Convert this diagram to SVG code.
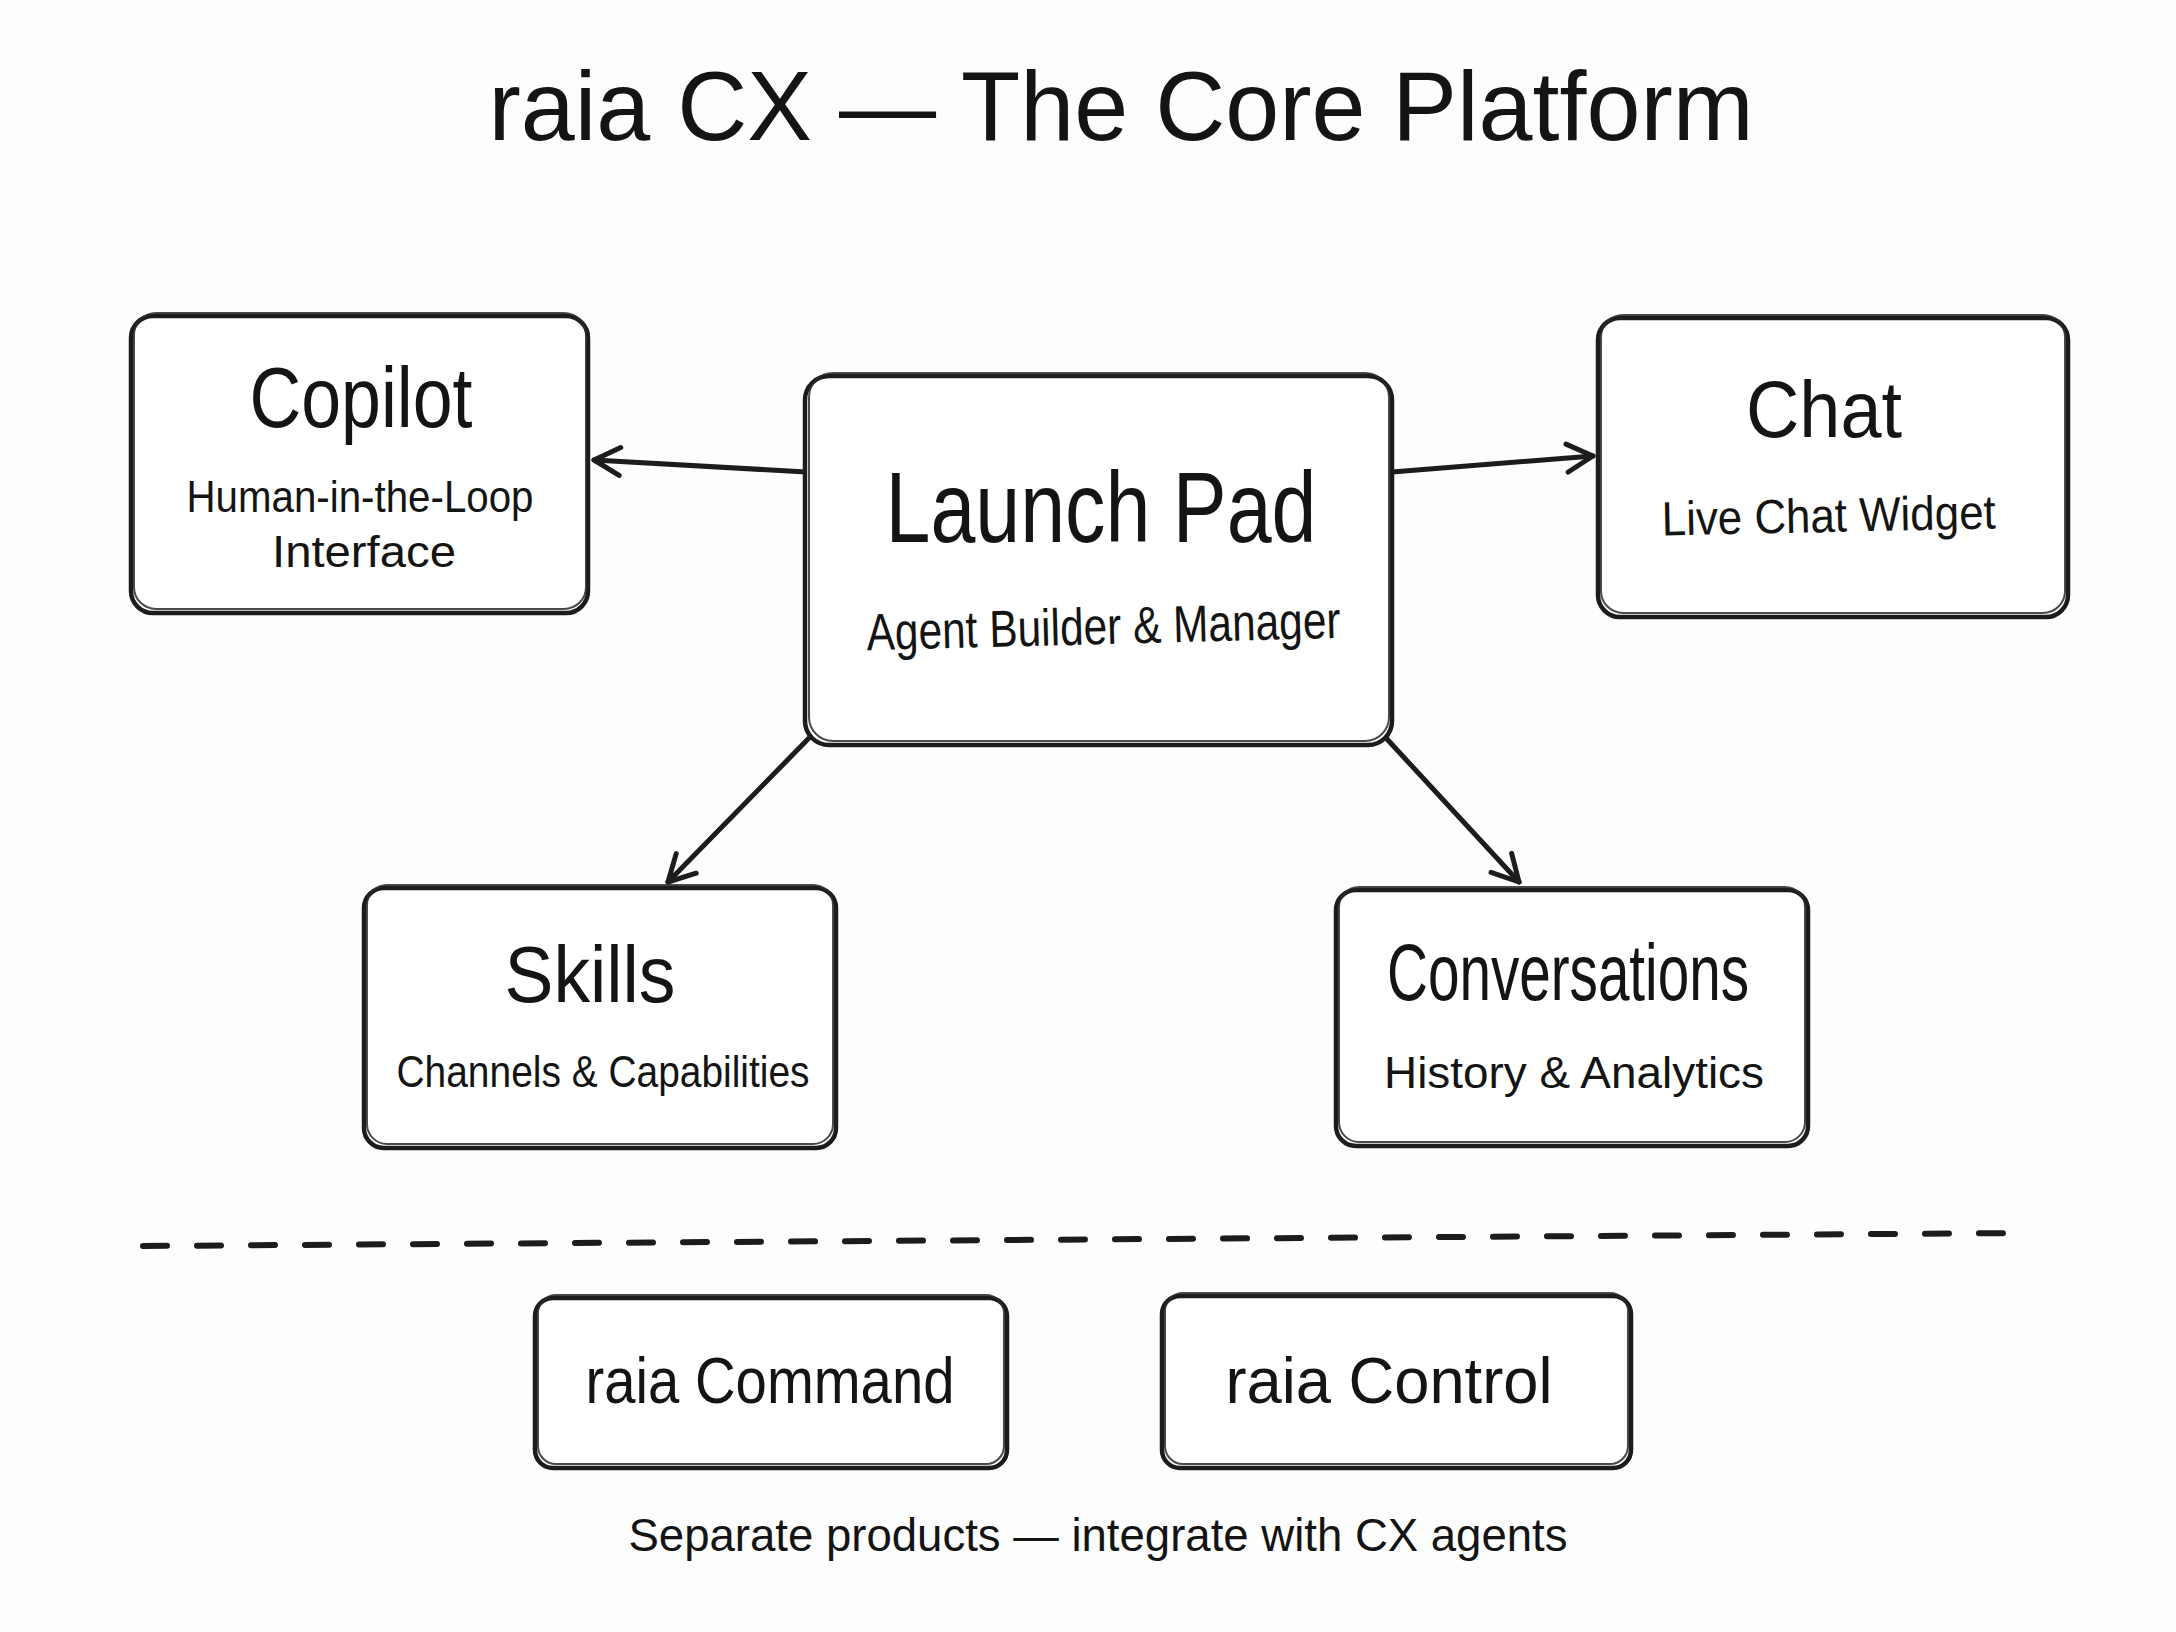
<svg xmlns="http://www.w3.org/2000/svg" width="2176" height="1632" viewBox="0 0 2176 1632">
<defs>
<style>
.bg{fill:#fdfdfd}
.box{fill:#ffffff;stroke:#1c1c1c;stroke-width:4.5}
.box2{fill:none;stroke:#2a2a2a;stroke-width:2;opacity:0.85}
.t{font-family:"Liberation Sans","DejaVu Sans",sans-serif;fill:#141414;text-anchor:middle}
.conn{fill:none;stroke:#1c1c1c;stroke-width:5;stroke-linecap:round}
.dash{fill:none;stroke:#1c1c1c;stroke-width:6;stroke-linecap:round;stroke-dasharray:24 30}
</style>
<marker id="arr" markerUnits="userSpaceOnUse" markerWidth="44" markerHeight="44" refX="32" refY="20" orient="auto">
<path d="M6,6 L32,20 L6,34" fill="none" stroke="#1c1c1c" stroke-width="5" stroke-linecap="round" stroke-linejoin="round"/>
</marker>
</defs>
<rect class="bg" x="0" y="0" width="2176" height="1632"/>

<g id="title">
<text class="t" x="1121" y="140" font-size="98" textLength="1265" lengthAdjust="spacingAndGlyphs">raia CX — The Core Platform</text>
</g>

<g id="connectors">
<line class="conn" x1="806" y1="472" x2="594" y2="460" marker-end="url(#arr)"/>
<line class="conn" x1="1392" y1="472" x2="1593" y2="456" marker-end="url(#arr)"/>
<line class="conn" x1="812" y1="735" x2="668" y2="882" marker-end="url(#arr)"/>
<line class="conn" x1="1386" y1="738" x2="1519" y2="882" marker-end="url(#arr)"/>
</g>

<g id="copilot">
<rect class="box" x="131" y="316" width="457" height="297" rx="22"/>
<rect class="box2" x="134" y="313" width="452" height="296" rx="22"/>
<text class="t" x="361" y="427" font-size="86" textLength="223" lengthAdjust="spacingAndGlyphs">Copilot</text>
<text class="t" x="360" y="512" font-size="45" textLength="347" lengthAdjust="spacingAndGlyphs">Human-in-the-Loop</text>
<text class="t" x="364" y="567" font-size="45" textLength="184" lengthAdjust="spacingAndGlyphs">Interface</text>
</g>

<g id="launch-pad">
<rect class="box" x="805" y="376" width="587" height="369" rx="24"/>
<rect class="box2" x="809" y="373" width="580" height="368" rx="24"/>
<text class="t" x="1101" y="542" font-size="100" textLength="431" lengthAdjust="spacingAndGlyphs">Launch Pad</text>
<text class="t" x="1104" y="644" font-size="52" textLength="474" lengthAdjust="spacingAndGlyphs" transform="rotate(-1.5 1104 644)">Agent Builder &amp; Manager</text>
</g>

<g id="chat">
<rect class="box" x="1598" y="318" width="470" height="299" rx="22"/>
<rect class="box2" x="1601" y="315" width="464" height="298" rx="22"/>
<text class="t" x="1824" y="437" font-size="80" textLength="156" lengthAdjust="spacingAndGlyphs">Chat</text>
<text class="t" x="1829" y="532" font-size="48" textLength="334" lengthAdjust="spacingAndGlyphs" transform="rotate(-1.2 1829 532)">Live Chat Widget</text>
</g>

<g id="skills">
<rect class="box" x="364" y="888" width="472" height="260" rx="20"/>
<rect class="box2" x="367" y="885" width="466" height="259" rx="20"/>
<text class="t" x="590" y="1002" font-size="80" textLength="171" lengthAdjust="spacingAndGlyphs">Skills</text>
<text class="t" x="603" y="1087" font-size="45" textLength="413" lengthAdjust="spacingAndGlyphs">Channels &amp; Capabilities</text>
</g>

<g id="conversations">
<rect class="box" x="1336" y="890" width="472" height="256" rx="20"/>
<rect class="box2" x="1339" y="887" width="466" height="255" rx="20"/>
<text class="t" x="1568" y="1000" font-size="80" textLength="362" lengthAdjust="spacingAndGlyphs">Conversations</text>
<text class="t" x="1574" y="1088" font-size="45" textLength="380" lengthAdjust="spacingAndGlyphs">History &amp; Analytics</text>
</g>

<g id="separator">
<line class="dash" x1="143" y1="1246" x2="2024" y2="1233"/>
</g>

<g id="raia-command">
<rect class="box" x="535" y="1298" width="472" height="170" rx="18"/>
<rect class="box2" x="538" y="1295" width="466" height="169" rx="18"/>
<text class="t" x="770" y="1403" font-size="64" textLength="369" lengthAdjust="spacingAndGlyphs">raia Command</text>
</g>

<g id="raia-control">
<rect class="box" x="1162" y="1296" width="469" height="172" rx="18"/>
<rect class="box2" x="1165" y="1293" width="463" height="171" rx="18"/>
<text class="t" x="1389" y="1403" font-size="64" textLength="327" lengthAdjust="spacingAndGlyphs">raia Control</text>
</g>

<g id="footer">
<text class="t" x="1098" y="1551" font-size="46" textLength="939" lengthAdjust="spacingAndGlyphs">Separate products — integrate with CX agents</text>
</g>
</svg>
